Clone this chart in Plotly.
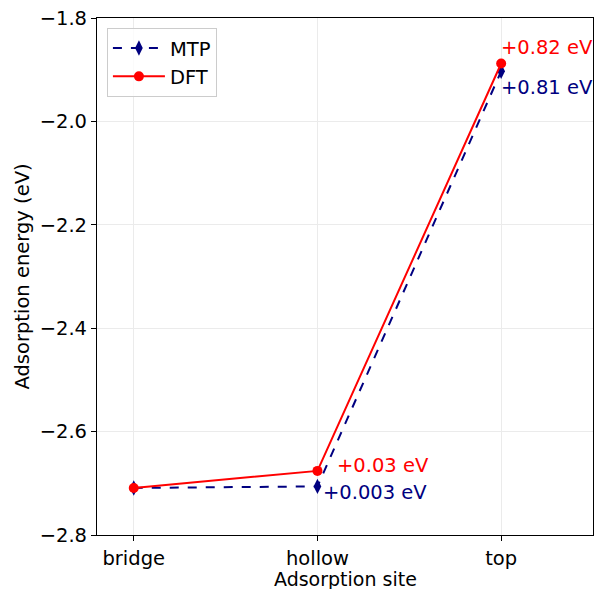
import plotly.graph_objects as go

sites = ["bridge", "hollow", "top"]
mtp = [-2.709, -2.706, -1.903]
dft = [-2.709, -2.676, -1.888]
dft_labels = [None, "+0.03 eV", "+0.82 eV"]
mtp_labels = [None, "+0.003 eV", "+0.81 eV"]

FONT = "DejaVu Sans"
FS = 19.5
NAVY = "#000080"
RED = "#ff0000"

fig = go.Figure()
fig.add_trace(go.Scatter(
    x=sites, y=mtp, name="MTP", mode="lines+markers",
    line=dict(color=NAVY, width=2, dash="dash"),
    marker=dict(symbol="diamond-tall", size=11, color=NAVY),
))
fig.add_trace(go.Scatter(
    x=sites, y=dft, name="DFT", mode="lines+markers",
    line=dict(color=RED, width=2),
    marker=dict(symbol="circle", size=10, color=RED),
))

shifts_dft = [None, (18, 5), (-2, 16)]
shifts_mtp = [None, (4, -6), (-2, -16)]
for i, s in enumerate(sites):
    if dft_labels[i]:
        xs, ys = shifts_dft[i]
        fig.add_annotation(x=s, y=dft[i], text=dft_labels[i], showarrow=False,
                           xanchor="left", yanchor="middle", xshift=xs, yshift=ys,
                           font=dict(color=RED, size=FS, family=FONT))
    if mtp_labels[i]:
        xs, ys = shifts_mtp[i]
        fig.add_annotation(x=s, y=mtp[i], text=mtp_labels[i], showarrow=False,
                           xanchor="left", yanchor="middle", xshift=xs, yshift=ys,
                           font=dict(color=NAVY, size=FS, family=FONT))

# axis titles
fig.add_annotation(xref="paper", yref="paper", x=0.5, y=0, yshift=-44,
                   text="Adsorption site", showarrow=False, xanchor="center", yanchor="middle",
                   font=dict(size=19, family=FONT, color="black"))
fig.add_annotation(xref="paper", yref="paper", x=0, y=0.5, xshift=-75,
                   text="Adsorption energy (eV)", showarrow=False, textangle=-90,
                   xanchor="center", yanchor="middle",
                   font=dict(size=FS, family=FONT, color="black"))

axis_common = dict(
    showline=True, linecolor="black", linewidth=1.2, mirror=True,
    ticks="outside", ticklen=5, tickwidth=1.2, tickcolor="black",
    showgrid=True, gridcolor="#ebebeb", gridwidth=1, zeroline=False,
    tickfont=dict(size=FS, family=FONT, color="black"),
)

fig.update_layout(
    width=594, height=589,
    margin=dict(l=97, r=1, t=18, b=54),
    paper_bgcolor="white", plot_bgcolor="white",
    font=dict(family=FONT, size=FS, color="black"),
    showlegend=True,
    legend=dict(x=0.02, y=0.981, xanchor="left", yanchor="top", itemwidth=52,
                bgcolor="rgba(255,255,255,0.8)", bordercolor="#cccccc", borderwidth=1,
                font=dict(size=FS, family=FONT)),
    xaxis=dict(axis_common, type="category", range=[-0.2, 2.5]),
    yaxis=dict(axis_common, range=[-2.8, -1.8], tickvals=[-2.8, -2.6, -2.4, -2.2, -2.0, -1.8],
               tickformat=".1f"),
)

fig.write_html("out.html")
